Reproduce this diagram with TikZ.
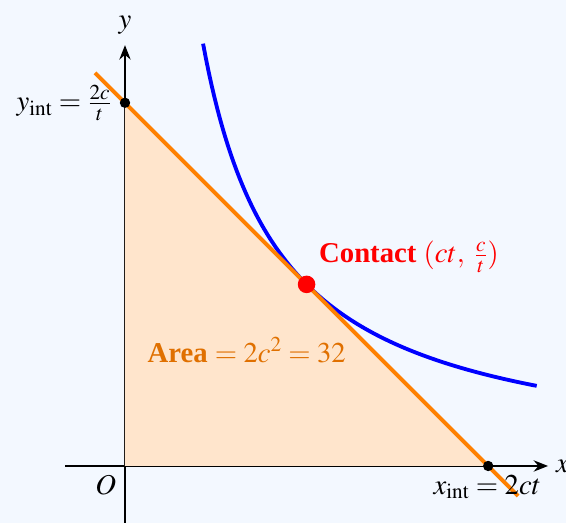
\documentclass[tikz,border=0pt]{standalone}
\usepackage{mathptmx}
\usepackage{fontspec}
\setmainfont{Liberation Serif}
\usepackage{tikz}
\usetikzlibrary{arrows.meta,calc,positioning}
\definecolor{bgblue}{RGB}{243,248,255}
\definecolor{areaorange}{RGB}{224,112,0}
\tikzset{
  axisline/.style={line width=1.6pt, -{Stealth[length=9pt, width=7pt]}},
  tangentline/.style={draw=orange, line width=2.4pt},
  hyperbola/.style={draw=blue, line width=2.4pt},
  areafill/.style={fill=orange!20},
  intdot/.style={circle, fill=black, inner sep=0pt, minimum size=6.5pt},
  contactdot/.style={circle, fill=red, inner sep=0pt, minimum size=11pt},
  biglabel/.style={font=\fontsize{18}{21}\selectfont, inner sep=2pt}
}

\begin{document}
\begin{tikzpicture}
  \path[use as bounding box, fill=bgblue] (-2.753,-1.256) rectangle (9.714,10.264);

  % ==== KEY POINTS ====
  \coordinate (O)       at (0,0);
  \coordinate (xint)    at (8,0);
  \coordinate (yint)    at (0,8);
  \coordinate (contact) at (4,4);
  \coordinate (xstart)  at (-1.32,0);
  \coordinate (xend)    at (9.32,0);
  \coordinate (ystart)  at (0,-1.26);
  \coordinate (yend)    at (0,9.27);

  % ==== AXES ====
  \draw[axisline] (xstart) -- (xend);
  \draw[axisline] (ystart) -- (yend);
  \node[biglabel, anchor=west] (xlab) at (9.42,0) {$x$};
  \node[biglabel, anchor=south] (ylab) at (0,9.42) {$y$};
  \node[biglabel, anchor=north east] (olab) at (-0.12,-0.12) {$O$};

  % ==== TRIANGLE UNDER THE TANGENT ====
  \fill[areafill] (O) -- (xint) -- (yint) -- cycle;

  % ==== HYPERBOLA xy = c^2 ====
  \draw[hyperbola] plot[domain=1.72:9.07, samples=120] (\x,{16/\x});

  % ==== TANGENT LINE ====
  \draw[tangentline] ($(yint)!-0.0825!(xint)$) -- ($(xint)!-0.0825!(yint)$);

  % ==== POINTS AND LABELS ====
  \node[intdot] (xdot) at (xint) {};
  \node[intdot] (ydot) at (yint) {};
  \node[contactdot] (cdot) at (contact) {};
  \node[biglabel, anchor=east] (ylabint) at (-0.22,8)
    {$y_{\mathrm{int}} = \frac{2c}{t}$};
  \node[biglabel, anchor=north] (xlabint) at (7.98,-0.12)
    {$x_{\mathrm{int}} = 2ct$};
  \node[biglabel, anchor=west, text=red] (clab) at (4.2,4.6)
    {\textbf{Contact} $(ct,\; \frac{c}{t})$};
  \node[biglabel, anchor=west, text=areaorange] (alab) at (0.42,2.55)
    {\textbf{Area} $= 2c^2 = 32$};
\end{tikzpicture}
\end{document}
